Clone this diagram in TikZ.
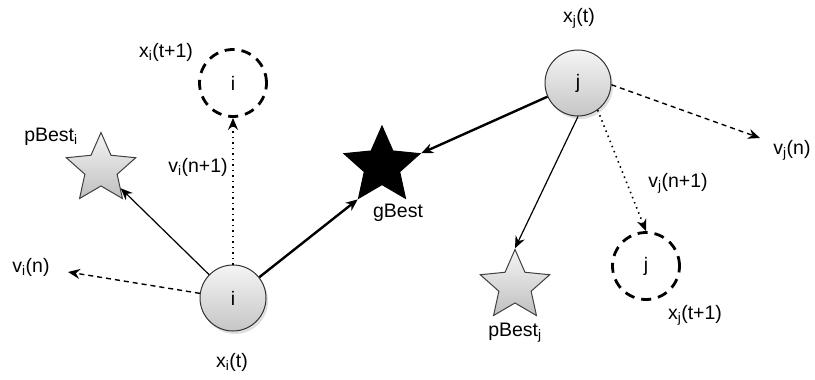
\documentclass[tikz,border=0pt]{standalone}
\usepackage{fontspec}
\setmainfont{Liberation Sans}
\usetikzlibrary{arrows.meta,shapes.geometric,shadows}
\begin{document}
\begin{tikzpicture}[x=1pt,y=-1pt,
  every node/.style={font=\fontsize{19.5}{22}\selectfont},
  particle/.style={circle,minimum size=66pt,inner sep=0pt,draw=black!80,line width=1pt,
    top color=gray!8,bottom color=gray!45,
    drop shadow={shadow xshift=2pt,shadow yshift=-3pt,opacity=0.25}},
  ghost/.style={circle,minimum size=67pt,inner sep=0pt,draw=black,line width=2.8pt,dash pattern=on 10pt off 7pt},
  beststar/.style={star,star points=5,star point ratio=2.15,inner sep=0pt,draw=black!75,line width=1pt,
    top color=gray!8,bottom color=gray!50},
  gstar/.style={star,star points=5,star point ratio=2.15,inner sep=0pt,draw=black,fill=black,line width=1pt},
  tip/.style={-{Stealth[length=12pt,width=10pt,inset=4pt]}},
  thin/.style={tip,line width=1.2pt},
  thick/.style={tip,line width=2.4pt},
  dsh/.style={tip,line width=1.4pt,dash pattern=on 5pt off 4pt},
  dot/.style={tip,line width=1.6pt,dash pattern=on 1.5pt off 4pt}
]
\useasboundingbox[fill=white] (0,0) rectangle (815,380);

% nodes
\node[particle] (ci) at (233,298) {i};
\node[ghost] (di) at (233,83) {i};
\node[beststar,minimum size=73pt] (pbi) at (101,169) {};
\node[gstar,minimum size=80pt] (gb) at (382,166) {};
\node[particle] (cj) at (578,83) {j};
\node[beststar,minimum size=73pt] (pbj) at (515,286) {};
\node[ghost] (dj) at (646,266) {j};

\coordinate (vin) at (68,272);
\coordinate (vjn) at (760,138);

% labels
\node (lxi1) at (166,52) {x\textsubscript{i}(t+1)};
\node (lpbi) at (51,137) {pBest\textsubscript{i}};
\node (lvi1) at (198,167) {v\textsubscript{i}(n+1)};
\node (lvin) at (31,267) {v\textsubscript{i}(n)};
\node (lxi) at (232,362) {x\textsubscript{i}(t)};
\node (lgb) at (398,213) {gBest};
\node (lxj) at (579,18) {x\textsubscript{j}(t)};
\node (lvjn) at (792,150) {v\textsubscript{j}(n)};
\node (lvj1) at (678,183) {v\textsubscript{j}(n+1)};
\node (lpbj) at (515,333) {pBest\textsubscript{j}};
\node (lxj1) at (695,315) {x\textsubscript{j}(t+1)};

% connectors
\draw[thin] (ci) -- (pbi);
\draw[dot] (ci.north) -- (di.south);
\draw[dsh] (ci.172) -- (vin);
\draw[thick] (ci) -- (gb.outer point 3);
\draw[thick] (cj) -- (gb.outer point 5);
\draw[thin] (cj.south) -- (pbj.outer point 1);
\draw[dot] (cj.-54) -- (dj.north);
\draw[dsh] (cj.-3) -- (vjn);
\end{tikzpicture}
\end{document}
